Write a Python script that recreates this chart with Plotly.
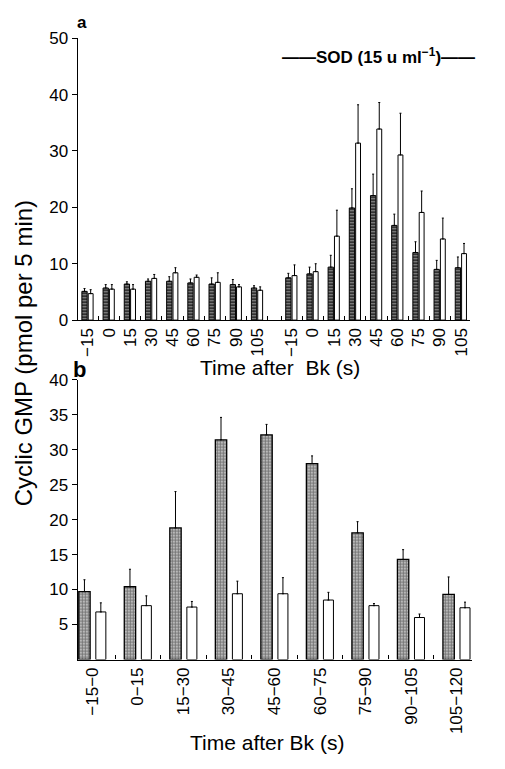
import plotly.graph_objects as go

W, H = 505, 769

# ---- panel a data (control group then SOD group) ----
a_labels = ["−15", "0", "15", "30", "45", "60", "75", "90", "105"]
a_ctrl_dark = [5.1, 5.7, 6.4, 6.9, 6.9, 6.6, 6.4, 6.3, 5.7]
a_ctrl_dark_sem = [0.5, 0.6, 0.4, 0.4, 0.8, 0.7, 1.1, 0.9, 0.4]
a_ctrl_white = [4.7, 5.5, 5.5, 7.4, 8.4, 7.6, 6.7, 5.9, 5.3]
a_ctrl_white_sem = [0.7, 0.8, 0.8, 0.7, 0.9, 0.4, 1.7, 0.4, 0.6]
a_sod_dark = [7.5, 8.2, 9.4, 19.9, 22.1, 16.8, 12.0, 9.0, 9.3]
a_sod_dark_sem = [0.8, 1.2, 2.1, 3.4, 3.8, 2.0, 1.9, 1.6, 1.9]
a_sod_white = [7.9, 8.6, 14.9, 31.4, 33.9, 29.3, 19.1, 14.4, 11.8]
a_sod_white_sem = [1.9, 1.4, 4.6, 6.8, 4.7, 7.4, 3.8, 3.7, 1.8]

# ---- panel b data ----
b_labels = ["−15−0", "0−15", "15−30", "30−45", "45−60", "60−75", "75−90", "90−105", "105−120"]
b_dark = [9.7, 10.4, 18.8, 31.4, 32.1, 28.0, 18.1, 14.3, 9.3]
b_dark_sem = [1.7, 2.5, 5.2, 3.2, 1.5, 1.1, 1.6, 1.4, 2.5]
b_white = [6.8, 7.7, 7.5, 9.4, 9.4, 8.5, 7.7, 6.0, 7.4]
b_white_sem = [1.3, 1.4, 0.8, 1.8, 2.3, 1.1, 0.3, 0.5, 0.8]

# x positions: two groups of nine in panel a with a gap between
gap = 1.62
a_x = list(range(9)) + [8 + gap + k for k in range(9)]
b_x = list(range(9))

FONT = "Liberation Sans, Arial, sans-serif"


def err(vals):
    return dict(type="data", symmetric=False, array=vals, arrayminus=[0] * len(vals),
                color="black", thickness=1, width=1)


fig = go.Figure()

fig.add_trace(go.Bar(
    x=a_x, y=a_ctrl_dark + a_sod_dark, offset=-0.28, width=0.25,
    marker=dict(color="#444", pattern=dict(shape="-", fgcolor="#eee", bgcolor="#333", size=3, solidity=0.35),
                line=dict(color="black", width=1)),
    error_y=err(a_ctrl_dark_sem + a_sod_dark_sem), xaxis="x", yaxis="y", showlegend=False))
fig.add_trace(go.Bar(
    x=a_x, y=a_ctrl_white + a_sod_white, offset=0.02, width=0.23,
    marker=dict(color="white", line=dict(color="black", width=1)),
    error_y=err(a_ctrl_white_sem + a_sod_white_sem), xaxis="x", yaxis="y", showlegend=False))

fig.add_trace(go.Bar(
    x=b_x, y=b_dark, offset=-0.30, width=0.25,
    marker=dict(color="#999", pattern=dict(shape="+", fgcolor="#222", bgcolor="#b8b8b8", size=3, solidity=0.45),
                line=dict(color="black", width=1.3)),
    error_y=err(b_dark_sem), xaxis="x2", yaxis="y2", showlegend=False))
fig.add_trace(go.Bar(
    x=b_x, y=b_white, offset=0.075, width=0.22,
    marker=dict(color="white", line=dict(color="black", width=1)),
    error_y=err(b_white_sem), xaxis="x2", yaxis="y2", showlegend=False))

axis_common = dict(showline=True, linecolor="black", linewidth=1.3, showgrid=False,
                   zeroline=False, tickfont=dict(family=FONT, size=17, color="black"))

a_minor = [k + 0.5 for k in range(9)] + [x - 0.5 for x in a_x[9:]]
fig.update_layout(
    width=W, height=H,
    margin=dict(l=0, r=0, t=0, b=0),
    paper_bgcolor="white", plot_bgcolor="white",
    barmode="overlay",
    font=dict(family=FONT, color="black"),
    xaxis=dict(domain=[78 / W, 471 / W], range=[-0.47, a_x[-1] + 0.42], anchor="y",
               tickmode="array", tickvals=a_x, ticktext=a_labels * 2, tickangle=-90,
               ticks="", minor=dict(tickmode="array", tickvals=a_minor, ticks="inside",
                                    ticklen=4, tickcolor="black"),
               **axis_common),
    yaxis=dict(domain=[1 - 319 / H, 1 - 30 / H], range=[0, 50], anchor="x",
               tickvals=[0, 10, 20, 30, 40, 50], ticks="outside", ticklen=5,
               tickcolor="black", **axis_common),
    xaxis2=dict(domain=[78 / W, 473 / W], range=[-0.32, 8.34], anchor="y2",
                tickmode="array", tickvals=b_x, ticktext=b_labels, tickangle=-90,
                ticks="", minor=dict(tickmode="array", tickvals=[k + 0.5 for k in range(9)],
                                     ticks="inside", ticklen=4, tickcolor="black"),
                **axis_common),
    yaxis2=dict(domain=[1 - 667 / H, 1 - 380 / H], range=[0, 40], anchor="x2",
                tickvals=[5, 10, 15, 20, 25, 30, 35, 40], ticks="outside", ticklen=5,
                tickcolor="black", **axis_common),
)


def note(text, x, y, size, bold=False, angle=0):
    fig.add_annotation(text=f"<b>{text}</b>" if bold else text, xref="paper", yref="paper",
                       x=x / W, y=1 - y / H, showarrow=False, textangle=angle,
                       font=dict(family=FONT, size=size, color="black"),
                       xanchor="center", yanchor="middle")


note("a", 82, 14, 17, bold=True)
note("b", 80, 370, 22, bold=True)
note("——SOD (15 u ml<sup>−1</sup>)——", 379, 48, 17, bold=True)
note("Time after  Bk (s)", 281, 368, 21)
note("Time after Bk (s)", 268, 752, 21)
note("Cyclic GMP (pmol per 5 min)", 23, 353, 24, angle=-90)

# page body has a default 8px margin; drop it so the figure sits at the window corner
fig.write_html("out.html", config={"displayModeBar": False},
               post_script="document.body.style.margin='0px';")
